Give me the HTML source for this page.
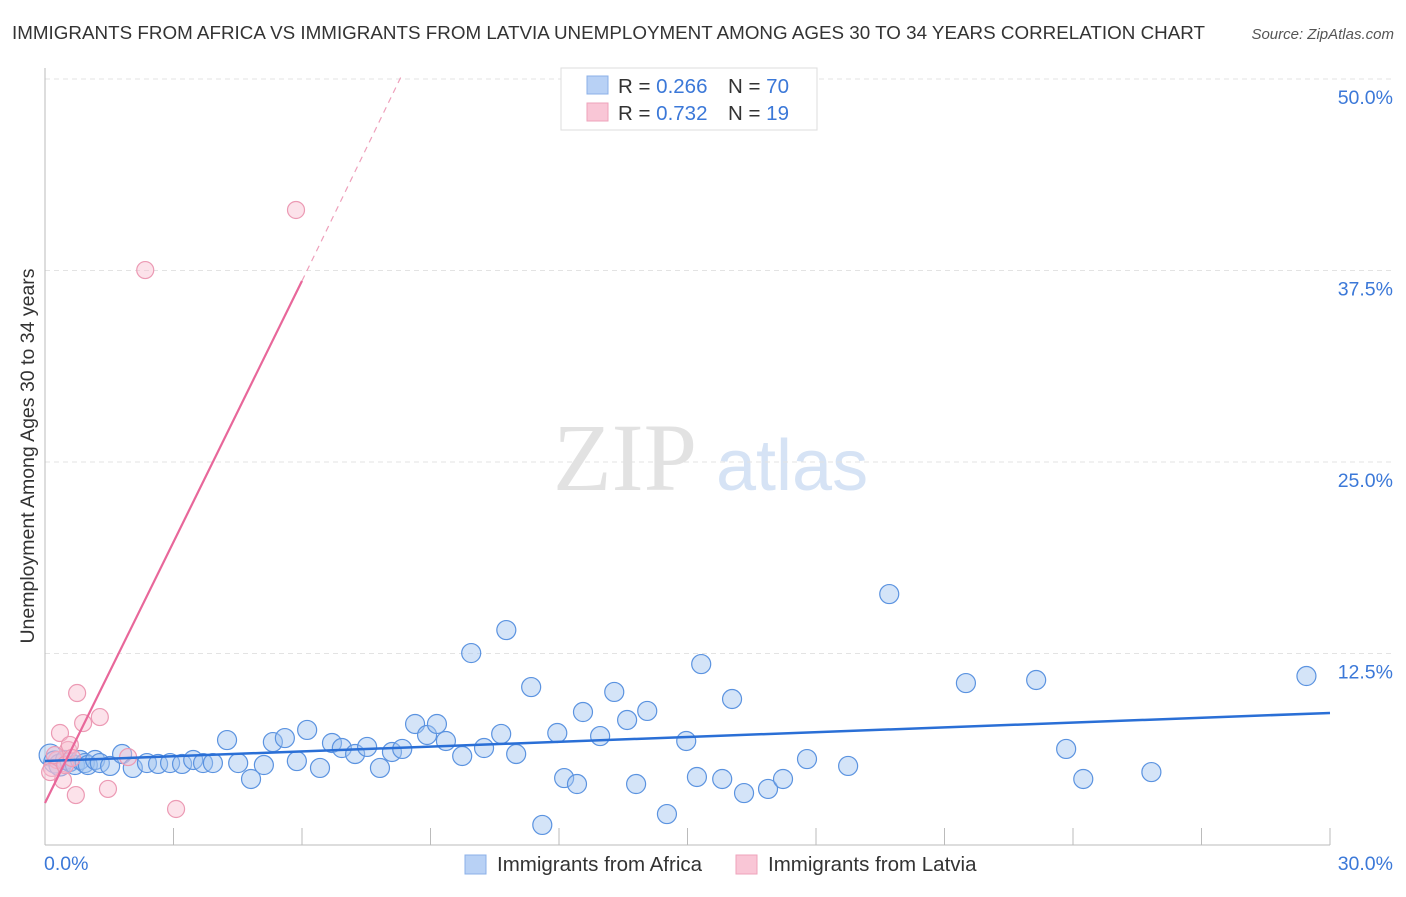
<!DOCTYPE html>
<html><head><meta charset="utf-8"><style>
body{margin:0;background:#fff;font-family:"Liberation Sans",sans-serif}
svg text{font-family:"Liberation Sans",sans-serif}
</style></head><body>
<svg id="chart" width="1406" height="892" xmlns="http://www.w3.org/2000/svg">
<text x="12" y="39" font-size="18.8" fill="#333" textLength="1193">IMMIGRANTS FROM AFRICA VS IMMIGRANTS FROM LATVIA UNEMPLOYMENT AMONG AGES 30 TO 34 YEARS CORRELATION CHART</text>
<text x="1394" y="39" font-size="15" font-style="italic" fill="#555" text-anchor="end">Source: ZipAtlas.com</text>
<g>
<text x="553" y="490" font-size="96" fill="#e2e2e2" style="font-family:'Liberation Serif',serif">ZIP</text>
<text x="716" y="490" font-size="72" fill="#d6e3f5">atlas</text>
</g>
<g id="grid"></g>
<g id="axes"></g>
<g id="marks"></g>
<text transform="translate(34,456) rotate(-90)" font-size="19.5" fill="#333" text-anchor="middle">Unemployment Among Ages 30 to 34 years</text>
<g>
<rect x="561" y="68" width="256" height="62" fill="#fff" stroke="#ddd"/>
<rect x="587" y="76" width="21" height="18" fill="#b8d1f5" stroke="#8bb0e8"/>
<rect x="587" y="103" width="21" height="18" fill="#f9c6d6" stroke="#eea3bb"/>
<text x="618" y="93" font-size="20.5" fill="#333">R = <tspan fill="#3b78d8">0.266</tspan></text>
<text x="728" y="93" font-size="20.5" fill="#333">N = <tspan fill="#3b78d8">70</tspan></text>
<text x="618" y="120" font-size="20.5" fill="#333">R = <tspan fill="#3b78d8"> 0.732</tspan></text>
<text x="728" y="120" font-size="20.5" fill="#333">N = <tspan fill="#3b78d8"> 19</tspan></text>
</g>
<g>
<rect x="465" y="855" width="21" height="19" fill="#b8d1f5" stroke="#8bb0e8"/>
<text x="497" y="871" font-size="20.5" fill="#333">Immigrants from Africa</text>
<rect x="736" y="855" width="21" height="19" fill="#f9c6d6" stroke="#eea3bb"/>
<text x="768" y="871" font-size="20.5" fill="#333">Immigrants from Latvia</text>
</g>
</svg>
<script>
const yTicks=[12.5,25,37.5,50];
const yTickLabels=["12.5%","25.0%","37.5%","50.0%"];
const xTicks=[0,3,6,9,12,15,18,21,24,27,30];
const africaX=[0.12,0.23,0.35,0.47,0.58,0.70,0.82,0.93,1.00,1.17,1.28,1.52,1.80,2.05,2.38,2.64,2.92,3.20,3.46,3.69,3.92,4.25,4.51,4.81,5.11,5.32,5.60,5.88,6.12,6.42,6.70,6.93,7.24,7.52,7.82,8.10,8.34,8.64,8.92,9.15,9.36,9.74,9.95,10.25,10.65,10.77,11.00,11.35,11.61,11.96,12.12,12.42,12.56,12.96,13.29,13.59,13.80,14.06,14.52,14.97,15.22,15.32,15.81,16.04,16.32,16.88,17.23,17.79,18.75,19.71,21.50,23.14,23.84,24.24,25.83,29.45];
const africaY=[5.87,5.42,5.22,5.55,5.42,5.22,5.55,5.35,5.22,5.55,5.35,5.16,5.94,5.03,5.35,5.29,5.35,5.29,5.55,5.35,5.35,6.85,5.35,4.31,5.22,6.72,6.98,5.48,7.51,5.03,6.66,6.33,5.94,6.40,5.03,6.07,6.27,7.90,7.18,7.90,6.79,5.81,12.53,6.33,7.25,14.03,5.94,10.31,1.31,7.31,4.37,3.98,8.68,7.11,9.99,8.16,3.98,8.75,2.02,6.79,4.44,11.81,4.31,9.53,3.39,3.66,4.31,5.61,5.16,16.38,10.57,10.77,6.27,4.31,4.76,11.03];
const latviaX=[0.16,0.28,0.35,0.42,0.54,0.58,0.72,0.75,0.89,1.28,1.47,1.94,2.34,3.06,5.86,0.12,0.23,0.47,0.63];
const latviaY=[5.03,5.55,7.31,4.24,6.20,6.53,3.26,9.92,7.96,8.35,3.66,5.74,37.53,2.35,41.45,4.76,5.87,5.22,5.68];
const africaTrend=[5.48,8.62];
const latviaTrend=[2.74,5.68];

const X=v=>45+v/30*1285, Y=v=>845-v/12.5*191.5;
const NS="http://www.w3.org/2000/svg";
function mk(tag,attrs,parent){const e=document.createElementNS(NS,tag);for(const k in attrs)e.setAttribute(k,attrs[k]);parent.appendChild(e);return e;}
const grid=document.getElementById('grid'),axes=document.getElementById('axes'),marks=document.getElementById('marks');
yTicks.forEach((t,i)=>{
 const l=mk('line',{x1:45,x2:1394,y1:Y(t),y2:Y(t),stroke:'#e3e3e3','stroke-dasharray':'5,4'},grid);
 
 
 const tx=mk('text',{x:1393,y:Y(t)+25,'font-size':19.5,fill:'#3b78d8','text-anchor':'end'},axes);
 tx.textContent=yTickLabels[i];
 
 
});
const ya=mk('line',{x1:45,x2:45,y1:68,y2:845,stroke:'#bbb'},axes);


const xa=mk('line',{x1:45,x2:1330,y1:845,y2:845,stroke:'#bbb'},axes);


xTicks.forEach(t=>{
 const l=mk('line',{x1:X(t),x2:X(t),y1:828,y2:845,stroke:'#bbb'},axes);
 
 
});
const x0=mk('text',{x:44,y:870,'font-size':19.5,fill:'#3b78d8'},axes);x0.textContent='0.0%';


const x1=mk('text',{x:1393,y:870,'font-size':19.5,fill:'#3b78d8','text-anchor':'end'},axes);x1.textContent='30.0%';



africaX.forEach((v,i)=>{
 const c=mk('circle',{cx:X(v),cy:Y(africaY[i]),r:i<3?11:9.5,fill:'rgba(160,195,240,0.45)',stroke:'#5b93e0','stroke-width':1.2},marks);
 
 
});
latviaX.forEach((v,i)=>{
 const c=mk('circle',{cx:X(v),cy:Y(latviaY[i]),r:8.5,fill:'rgba(248,190,208,0.45)',stroke:'#ec9ab4','stroke-width':1.2},marks);
 
 
});
const bt=mk('line',{x1:X(0),y1:Y(africaTrend[0]),x2:X(30),y2:Y(africaTrend[1]),stroke:'#2a6fd6','stroke-width':2.5},marks);


const ls=6, le=(50-latviaTrend[0])/latviaTrend[1];
const pt=mk('line',{x1:X(0),y1:Y(latviaTrend[0]),x2:X(ls),y2:Y(latviaTrend[0]+latviaTrend[1]*ls),stroke:'#e8679a','stroke-width':2.2},marks);


const pd=mk('line',{x1:X(ls),y1:Y(latviaTrend[0]+latviaTrend[1]*ls),x2:X(le),y2:Y(50)-3,stroke:'#eea0bb','stroke-width':1.2,'stroke-dasharray':'6,5'},marks);


</script>
</body></html>
